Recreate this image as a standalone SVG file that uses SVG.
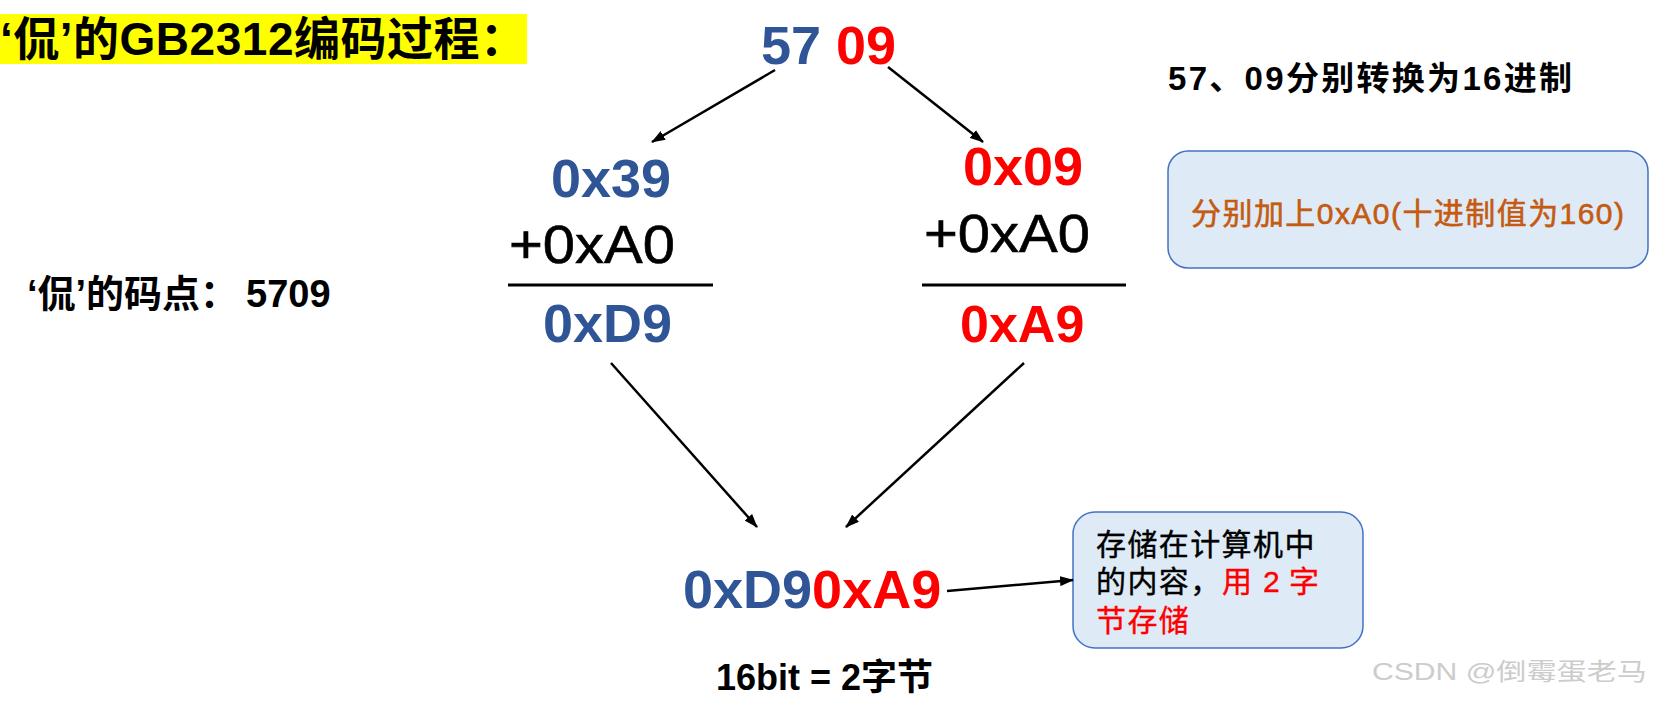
<svg xmlns="http://www.w3.org/2000/svg" width="1657" height="703" viewBox="0 0 1657 703">
<defs>
<style>
text { font-family: "Liberation Sans", "Noto Sans CJK SC", sans-serif; }
.b { font-weight: bold; }
.blue { fill: #2F5597; }
.red { fill: #FF0000; }
.blk { fill: #000000; }
.hex { font-size: 54px; font-weight: bold; }
.add { font-size: 54px; font-weight: normal; fill: #000; stroke: #000; stroke-width: 0.6; }
.conn { stroke: #000; stroke-width: 2.5; fill: none; marker-end: url(#arr); }
.rule { stroke: #000; stroke-width: 3; }
.box { fill: #DEEBF7; stroke: #4472C4; stroke-width: 1.5; }
.note { font-size: 30px; stroke-width: 0.4; }
.note .blk, .note.blk { stroke: #000; }
.note .red, .note.red { stroke: #FF0000; }
</style>
<marker id="arr" viewBox="0 0 14 10" refX="13" refY="5" markerWidth="14" markerHeight="10" markerUnits="userSpaceOnUse" orient="auto">
<path d="M0,0 L14,5 L0,10 z" fill="#000"/>
</marker>
</defs>
<rect width="1657" height="703" fill="#FFFFFF"/>

<g id="title">
<rect x="0" y="14" width="527" height="50" fill="#FFFF00"/>
<text x="0" y="55" class="b blk" font-size="46" textLength="526" lengthAdjust="spacing">‘侃’的GB2312编码过程：</text>
</g>

<g id="codepoint">
<text x="27" y="307" class="b blk" font-size="38">‘侃’的码点：<tspan x="246">5709</tspan></text>
</g>

<g id="source">
<text x="761" y="64" class="hex"><tspan class="blue">57</tspan><tspan class="red"> 09</tspan></text>
</g>

<g id="note-hex">
<text x="1168" y="90" class="b blk" font-size="33" textLength="404" lengthAdjust="spacing">57、09分别转换为16进制</text>
</g>

<g id="note-add">
<rect class="box" x="1168" y="151" width="480" height="117" rx="20" ry="20"/>
<text x="1191" y="224" font-size="30" fill="#C55A11" stroke="#C55A11" stroke-width="0.6" textLength="433" lengthAdjust="spacing">分别加上0xA0(十进制值为160)</text>
</g>

<g id="left-sum">
<text x="551" y="197" class="hex blue">0x39</text>
<text x="509" y="263" class="add" textLength="166" lengthAdjust="spacingAndGlyphs">+0xA0</text>
<line class="rule" x1="508" y1="285" x2="713" y2="285"/>
<text x="543" y="342" class="hex blue">0xD9</text>
</g>

<g id="right-sum">
<text x="963" y="185" class="hex red" font-size="53">0x09</text>
<text x="924" y="252" class="add" textLength="166" lengthAdjust="spacingAndGlyphs">+0xA0</text>
<line class="rule" x1="922" y1="285" x2="1126" y2="285"/>
<text x="960" y="342" class="hex red" style="font-size:52px">0xA9</text>
</g>

<g id="result">
<text x="683" y="608" class="hex"><tspan class="blue">0xD9</tspan><tspan class="red">0xA9</tspan></text>
</g>

<g id="bits">
<text x="716" y="690" class="b blk" font-size="36">16bit = 2字节</text>
</g>

<g id="note-store">
<rect class="box" x="1073" y="512" width="290" height="136" rx="22" ry="22"/>
<text x="1096" y="555" class="note blk" letter-spacing="1.4">存储在计算机中</text>
<text y="592" class="note"><tspan x="1096" class="blk" letter-spacing="1.4">的内容，</tspan><tspan x="1222" class="red">用</tspan><tspan x="1263" class="red">2</tspan><tspan x="1289" class="red">字</tspan></text>
<text x="1096" y="631" class="note red" letter-spacing="1.4">节存储</text>
</g>

<g id="connectors">
<line class="conn" x1="775" y1="70" x2="652" y2="142"/>
<line class="conn" x1="888" y1="67" x2="983" y2="142"/>
<line class="conn" x1="611" y1="363" x2="757" y2="527"/>
<line class="conn" x1="1024" y1="363" x2="846" y2="527"/>
<line class="conn" x1="947" y1="591" x2="1073" y2="580"/>
</g>

<g id="watermark">
<text x="1372" y="680" font-size="24" fill="#CCCCCC" textLength="275" lengthAdjust="spacingAndGlyphs">CSDN @倒霉蛋老马</text>
</g>
</svg>
